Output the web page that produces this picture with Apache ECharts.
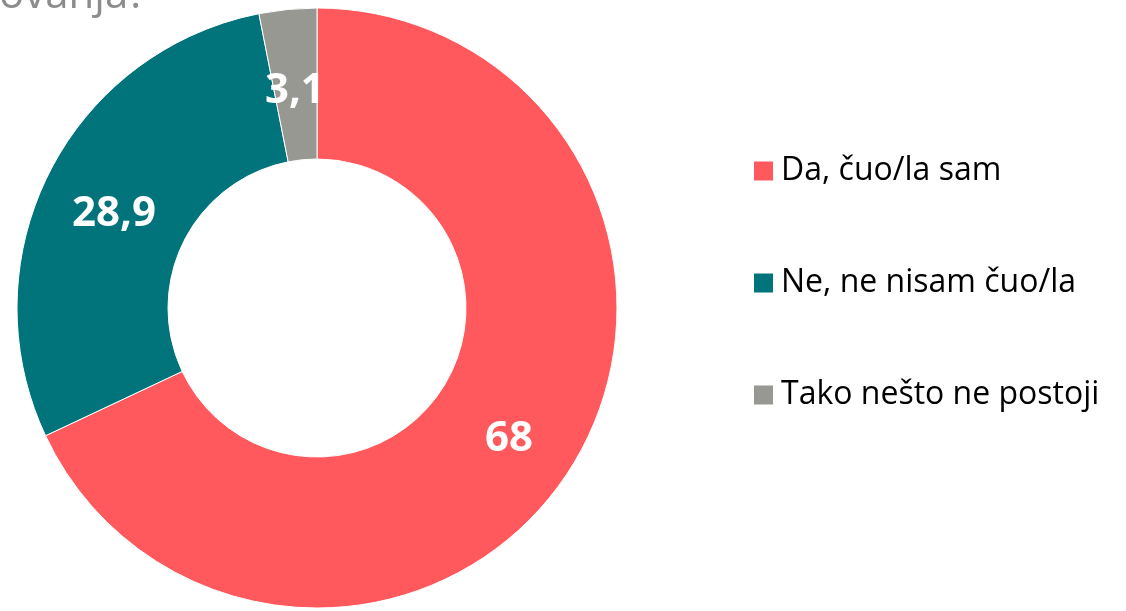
<!DOCTYPE html>
<html>
<head>
<meta charset="utf-8">
<script src="https://cdn.jsdelivr.net/npm/echarts@6/dist/echarts.min.js"></script>
<style>html,body{margin:0;padding:0;background:#fff;}#c{width:1126px;height:611px;}</style>
</head>
<body>
<div id="c"></div>
<script>
const categories = ['Da, čuo/la sam', 'Ne, ne nisam čuo/la', 'Tako nešto ne postoji'];
const values = [68, 28.9, 3.1];
const valueLabels = ['68', '28,9', '3,1'];
const colors = ['#FF585D', '#00747A', '#979892'];
const titleText = 'ovanja?';

const chart = echarts.init(document.getElementById('c'));
chart.setOption({
  animation: false,
  backgroundColor: '#fff',
  graphic: [{
    type: 'text', left: -1, top: -25,
    style: { text: titleText, font: '42px "Open Sans"', fill: '#8c8c8c' }
  }],
  legend: {
    orient: 'vertical',
    left: 747, top: 150,
    itemWidth: 21, itemHeight: 21, itemGap: 80,
    icon: 'rect',
    data: categories,
    textStyle: { fontFamily: 'Open Sans', fontSize: 32, color: '#000', padding: [0, 0, 0, 2] }
  },
  series: [{
    type: 'pie',
    center: [317, 308],
    radius: [149, 300],
    startAngle: 90,
    clockwise: true,
    avoidLabelOverlap: false,
    itemStyle: { borderColor: '#fff', borderWidth: 1 },
    label: {
      show: true, position: 'inside',
      formatter: p => valueLabels[p.dataIndex],
      offset: [0, 9],
      color: '#fff', fontWeight: 'bold', fontSize: 42, fontFamily: 'Open Sans'
    },
    labelLine: { show: false },
    emphasis: { disabled: true },
    data: categories.map((n, i) => ({ name: n, value: values[i], itemStyle: { color: colors[i] } }))
  }]
});
</script>
</body>
</html>
